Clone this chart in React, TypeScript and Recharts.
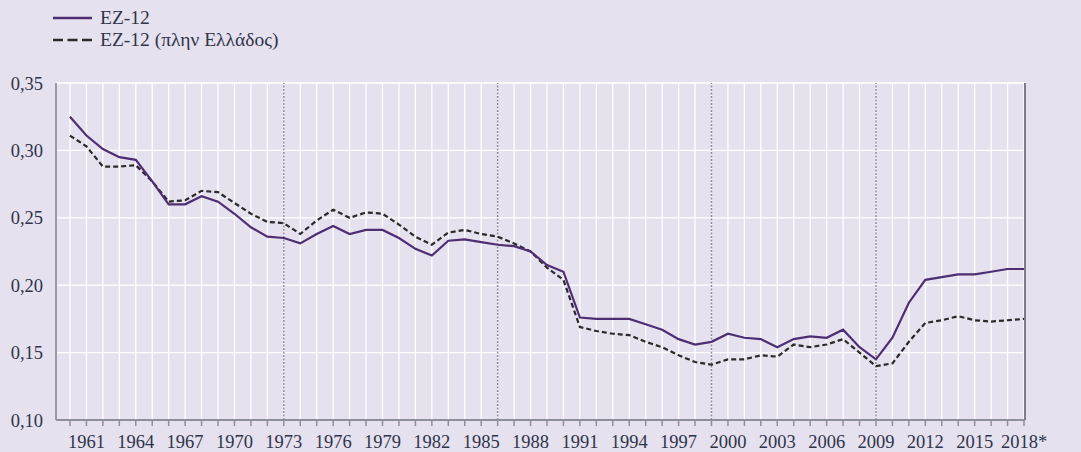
import React from "react"
import { LineChart, Line, XAxis, YAxis, CartesianGrid, ReferenceLine } from "recharts"

const years = [
    1960, 1961, 1962, 1963, 1964, 1965, 1966, 1967, 1968, 1969,
    1970, 1971, 1972, 1973, 1974, 1975, 1976, 1977, 1978, 1979,
    1980, 1981, 1982, 1983, 1984, 1985, 1986, 1987, 1988, 1989,
    1990, 1991, 1992, 1993, 1994, 1995, 1996, 1997, 1998, 1999,
    2000, 2001, 2002, 2003, 2004, 2005, 2006, 2007, 2008, 2009,
    2010, 2011, 2012, 2013, 2014, 2015, 2016, 2017, 2018,
]

// EZ-12
const ez12 = [
    0.325, 0.311, 0.301, 0.295, 0.293, 0.277, 0.260, 0.260, 0.266, 0.262,
    0.253, 0.243, 0.236, 0.235, 0.231, 0.238, 0.244, 0.238, 0.241, 0.241,
    0.235, 0.227, 0.222, 0.233, 0.234, 0.232, 0.230, 0.229, 0.225, 0.215,
    0.210, 0.176, 0.175, 0.175, 0.175, 0.171, 0.167, 0.160, 0.156, 0.158,
    0.164, 0.161, 0.160, 0.154, 0.160, 0.162, 0.161, 0.167, 0.154, 0.145,
    0.161, 0.187, 0.204, 0.206, 0.208, 0.208, 0.210, 0.212, 0.212,
]

// EZ-12 χωρίς Ελλάδα
const ez12ExGreece = [
    0.311, 0.303, 0.288, 0.288, 0.289, 0.277, 0.262, 0.263, 0.270, 0.269,
    0.261, 0.253, 0.247, 0.246, 0.238, 0.248, 0.256, 0.250, 0.254, 0.253,
    0.245, 0.236, 0.230, 0.239, 0.241, 0.238, 0.236, 0.231, 0.225, 0.213,
    0.204, 0.169, 0.166, 0.164, 0.163, 0.158, 0.154, 0.148, 0.143, 0.141,
    0.145, 0.145, 0.148, 0.147, 0.156, 0.154, 0.156, 0.160, 0.150, 0.140,
    0.142, 0.158, 0.172, 0.174, 0.177, 0.174, 0.173, 0.174, 0.175,
]

const labelYears = [1961, 1964, 1967, 1970, 1973, 1976, 1979, 1982, 1985, 1988, 1991, 1994, 1997, 2000, 2003, 2006, 2009, 2012, 2015, 2018]
const markerYears = [1973, 1986, 1999, 2009]
const yTicks = [0.10, 0.15, 0.20, 0.25, 0.30, 0.35]

const seriesNames = ["EZ-12", "EZ-12 (πλην Ελλάδος)"]

const data = years.map((year, i) => ({ year, a: ez12[i], b: ez12ExGreece[i] }))

const BG = "#e5e1ee"
const PURPLE = "#4d2e72"
const DASH = "#2a2a2a"
const TEXT = "#30344a"
const FONT = "'Liberation Serif', 'Times New Roman', serif"

const fmt = (v: number) => v.toFixed(2).replace(".", ",")

const YearTick = (props: any) => {
    const { x, y, payload } = props
    const v = payload.value
    const showLabel = labelYears.includes(v)
    return (
        <g>
            <line x1={x} y1={y} x2={x} y2={y + 6} stroke="#8f8f99" strokeWidth={1.5} />
            {showLabel && (
                <text x={x} y={y + 28} textAnchor="middle" fill={TEXT} fontSize={18.5} fontFamily={FONT}>
                    {v === 2018 ? "2018*" : v}
                </text>
            )}
        </g>
    )
}

export default function App() {
    return (
        <div style={{ position: "absolute", left: 0, top: 0, width: 1081, height: 452, background: BG }}>
            <div style={{ position: "absolute", left: 53, top: 7, fontFamily: FONT, fontSize: 19.5, color: TEXT, lineHeight: "22px" }}>
                <div style={{ display: "flex", alignItems: "center" }}>
                    <svg width={40} height={22}>
                        <line x1={0} y1={11} x2={39} y2={11} stroke={PURPLE} strokeWidth={2.5} />
                    </svg>
                    <span style={{ marginLeft: 7 }}>{seriesNames[0]}</span>
                </div>
                <div style={{ display: "flex", alignItems: "center" }}>
                    <svg width={40} height={22}>
                        <line x1={0} y1={11} x2={39} y2={11} stroke={DASH} strokeWidth={2.5} strokeDasharray="10 4.5" />
                    </svg>
                    <span style={{ marginLeft: 7 }}>{seriesNames[1]}</span>
                </div>
            </div>
            <LineChart
                width={1081}
                height={452}
                data={data}
                margin={{ top: 83, right: 0, bottom: 0, left: 0 }}
                style={{ fontFamily: FONT }}
            >
                <CartesianGrid stroke="#ffffff" strokeWidth={1.3} yAxisId="left" />
                <XAxis
                    dataKey="year"
                    type="number"
                    domain={[1959.15, 2018.06]}
                    allowDataOverflow
                    ticks={years}
                    interval={0}
                    height={32}
                    tickSize={0}
                    tickMargin={0}
                    tickLine={false}
                    axisLine={{ stroke: "#8f8f99", strokeWidth: 2 }}
                    tick={<YearTick />}
                />
                <YAxis
                    yAxisId="left"
                    orientation="left"
                    width={56}
                    domain={[0.1, 0.35]}
                    ticks={yTicks}
                    tickFormatter={fmt}
                    tickSize={0}
                    tickMargin={13}
                    tickLine={false}
                    axisLine={{ stroke: "#9a9aa4", strokeWidth: 2 }}
                    tick={{ fill: TEXT, fontSize: 18.5, fontFamily: FONT }}
                />
                <YAxis
                    yAxisId="right"
                    orientation="right"
                    width={56}
                    domain={[0.1, 0.35]}
                    ticks={yTicks}
                    tickFormatter={fmt}
                    tickSize={0}
                    tickMargin={18}
                    tickLine={false}
                    axisLine={{ stroke: "#7d7d88", strokeWidth: 2 }}
                    tick={{ fill: TEXT, fontSize: 18.5, fontFamily: FONT, textAnchor: "start" }}
                />
                {markerYears.map((yr) => (
                    <ReferenceLine
                        key={yr}
                        x={yr}
                        yAxisId="left"
                        stroke="#8a8a98"
                        strokeWidth={1.5}
                        strokeDasharray="2 1.5"
                    />
                ))}
                <Line
                    yAxisId="left"
                    type="linear"
                    dataKey="b"
                    name={seriesNames[1]}
                    stroke={DASH}
                    strokeWidth={2.2}
                    strokeDasharray="5 3"
                    dot={false}
                    isAnimationActive={false}
                />
                <Line
                    yAxisId="left"
                    type="linear"
                    dataKey="a"
                    name={seriesNames[0]}
                    stroke={PURPLE}
                    strokeWidth={2.2}
                    dot={false}
                    isAnimationActive={false}
                />
            </LineChart>
        </div>
    )
}
